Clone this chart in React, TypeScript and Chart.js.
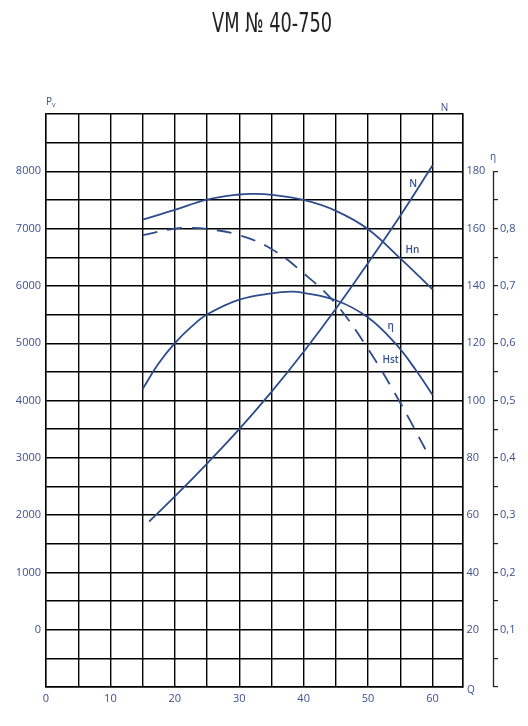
import React, { useEffect, useRef } from 'react';
import { Chart, registerables } from 'chart.js';

Chart.register(...registerables);

// Q, thousand m3/h  ->  Hn, Pa (full pressure)
const hnQ = [15, 20, 25, 30, 32.5, 35, 40, 45, 50, 55, 60];
const hnPa = [7155, 7325, 7505, 7595, 7605, 7590, 7500, 7310, 6990, 6480, 5940];

// Q -> Hst, Pa (static pressure, dashed)
const hstQ = [15, 20, 22, 25, 30, 35, 40, 45, 50, 55, 58.9];
const hstPa = [6885, 7000, 7012, 6995, 6885, 6645, 6220, 5685, 4900, 3960, 3150];

// Q -> efficiency
const etaQ = [15, 17.5, 20, 22.5, 25, 30, 35, 38, 40, 45, 50, 54.2, 57.3, 60];
const etaVal = [0.52, 0.565, 0.6, 0.628, 0.65, 0.676, 0.687, 0.69, 0.688, 0.675, 0.645, 0.6, 0.555, 0.51];

// Q -> N, kW
const nQ = [16, 20, 25, 30, 35, 40, 45, 50, 55, 60];
const nKw = [57.7, 66.5, 78, 90, 103, 117, 132, 148, 164.5, 182];

const xTicks = [0, 5, 10, 15, 20, 25, 30, 35, 40, 45, 50, 55, 60];
const pvTicks = [-1000, -500, 0, 500, 1000, 1500, 2000, 2500, 3000, 3500, 4000, 4500, 5000, 5500, 6000, 6500, 7000, 7500, 8000, 8500, 9000];
const etaTicks = [0, 0.05, 0.1, 0.15, 0.2, 0.25, 0.3, 0.35, 0.4, 0.45, 0.5, 0.55, 0.6, 0.65, 0.7, 0.75, 0.8, 0.85, 0.9];

const curveLabels = [
  { text: 'N', q: 57, pv: 7770 },
  { text: 'Hn', q: 56.9, pv: 6620 },
  { text: 'η', q: 53.5, pv: 5300 },
  { text: 'Hst', q: 53.5, pv: 4710 },
];

const X_MAX = 64.66;
const BLUE = '#2d4c8c';
const TEXT = '#3a5090';
const GRID = '#000';
const FONT = '"Open Sans", "Liberation Sans", sans-serif';

const pts = (xs: number[], ys: number[]) => xs.map((x, i) => ({ x, y: ys[i] }));

const extras = {
  id: 'extras',
  afterDraw(chart: any) {
    const { ctx, chartArea, scales } = chart;
    ctx.save();

    // title, condensed to the width of the original
    ctx.fillStyle = '#222';
    ctx.font = '27px "DejaVu Sans Condensed", "Liberation Sans", sans-serif';
    ctx.textAlign = 'center';
    ctx.textBaseline = 'middle';
    const title = 'VM № 40-750';
    const w = ctx.measureText(title).width;
    ctx.save();
    ctx.translate(chart.width / 2 + 8, 17);
    ctx.scale(120 / w, 1);
    ctx.fillText(title, 0, 0);
    ctx.restore();

    // eta axis line
    const y3 = scales.y3;
    ctx.strokeStyle = '#222';
    ctx.lineWidth = 1.3;
    ctx.beginPath();
    ctx.moveTo(y3.left + 0.5, y3.getPixelForValue(0));
    ctx.lineTo(y3.left + 0.5, y3.getPixelForValue(0.9));
    ctx.stroke();

    // axis titles
    ctx.fillStyle = TEXT;
    ctx.textAlign = 'left';
    ctx.textBaseline = 'alphabetic';
    ctx.font = `10px ${FONT}`;
    ctx.fillText('P', chartArea.left, chartArea.top - 9);
    ctx.font = `7px ${FONT}`;
    ctx.fillText('v', chartArea.left + 6, chartArea.top - 7);

    ctx.font = `10px ${FONT}`;
    ctx.textAlign = 'center';
    ctx.textBaseline = 'middle';
    ctx.fillText('N', chartArea.right - 18, chartArea.top - 6);
    ctx.fillText('η', y3.left, y3.getPixelForValue(0.9) - 14);
    ctx.fillText('Q', chartArea.right + 8.5, chartArea.bottom + 3);

    // curve labels
    ctx.font = `600 10px ${FONT}`;
    curveLabels.forEach((l) => {
      ctx.fillText(l.text, scales.x.getPixelForValue(l.q), scales.y.getPixelForValue(l.pv));
    });

    ctx.restore();
  },
};

export default function App() {
  const canvasRef = useRef<HTMLCanvasElement>(null);
  const chartRef = useRef<Chart | null>(null);

  useEffect(() => {
    if (!canvasRef.current) return;
    if (chartRef.current) chartRef.current.destroy();

    const lineStyle = {
      borderColor: BLUE,
      borderWidth: 1.8,
      pointRadius: 0,
      fill: false,
      tension: 0.4,
    };

    chartRef.current = new Chart(canvasRef.current, {
      type: 'line',
      data: {
        datasets: [
          { label: 'Hn', data: pts(hnQ, hnPa), yAxisID: 'y', ...lineStyle },
          { label: 'Hst', data: pts(hstQ, hstPa), yAxisID: 'y', borderDash: [15, 10], ...lineStyle },
          { label: 'η', data: pts(etaQ, etaVal), yAxisID: 'y3', ...lineStyle },
          { label: 'N', data: pts(nQ, nKw), yAxisID: 'y2', ...lineStyle },
        ],
      },
      options: {
        responsive: false,
        animation: false,
        layout: { padding: { top: 106, left: 0, right: 0, bottom: 0 } },
        plugins: {
          legend: { display: false },
          tooltip: { enabled: false },
        },
        scales: {
          x: {
            type: 'linear',
            min: 0,
            max: X_MAX,
            afterBuildTicks: (s: any) => {
              s.ticks = [...xTicks, X_MAX].map((value) => ({ value }));
            },
            afterFit: (s: any) => {
              s.height = 31;
            },
            grid: { color: GRID, lineWidth: 1.4, drawTicks: false },
            border: { color: GRID, width: 1.4 },
            ticks: {
              padding: 5,
              color: TEXT,
              font: { family: FONT, size: 11 },
              callback: (v: any) => (v % 10 === 0 && v <= 60 ? String(v) : ''),
            },
          },
          y: {
            type: 'linear',
            position: 'left',
            min: -1000,
            max: 9000,
            afterBuildTicks: (s: any) => {
              s.ticks = pvTicks.map((value) => ({ value }));
            },
            afterFit: (s: any) => {
              s.width = 38;
            },
            grid: { color: GRID, lineWidth: 1.4, drawTicks: false },
            border: { color: GRID, width: 1.4 },
            ticks: {
              padding: 5,
              color: TEXT,
              font: { family: FONT, size: 11 },
              callback: (v: any) => (v >= 0 && v <= 8000 && v % 1000 === 0 ? String(v) : ''),
            },
          },
          y2: {
            type: 'linear',
            position: 'right',
            weight: 0,
            min: 0,
            max: 200,
            ticks: {
              stepSize: 20,
              padding: 4,
              color: TEXT,
              font: { family: FONT, size: 11 },
              callback: (v: any) => (v >= 20 && v <= 180 ? String(v) : ''),
            },
            afterFit: (s: any) => {
              s.width = 30.5;
            },
            grid: { drawOnChartArea: false, drawTicks: false },
            border: { color: GRID, width: 1.4 },
          },
          y3: {
            type: 'linear',
            position: 'right',
            weight: 1,
            min: 0,
            max: 1,
            afterBuildTicks: (s: any) => {
              s.ticks = etaTicks.map((value) => ({ value }));
            },
            afterFit: (s: any) => {
              s.width = 27;
            },
            grid: { drawOnChartArea: false, drawTicks: true, tickLength: 5, color: '#222', lineWidth: 1.2 },
            border: { display: false },
            ticks: {
              padding: 2,
              color: TEXT,
              font: { family: FONT, size: 11 },
              callback: (v: any) => {
                const hundredth = Math.round(v * 100);
                return hundredth % 10 === 0 && hundredth >= 10 && hundredth <= 80
                  ? (hundredth / 100).toFixed(1).replace('.', ',')
                  : '';
              },
            },
          },
        },
      },
      plugins: [extras],
    });

    return () => {
      if (chartRef.current) {
        chartRef.current.destroy();
        chartRef.current = null;
      }
    };
  }, []);

  return (
    <div style={{ width: 512, height: 710 }}>
      <canvas ref={canvasRef} width={512} height={710} style={{ width: 512, height: 710 }} />
    </div>
  );
}
